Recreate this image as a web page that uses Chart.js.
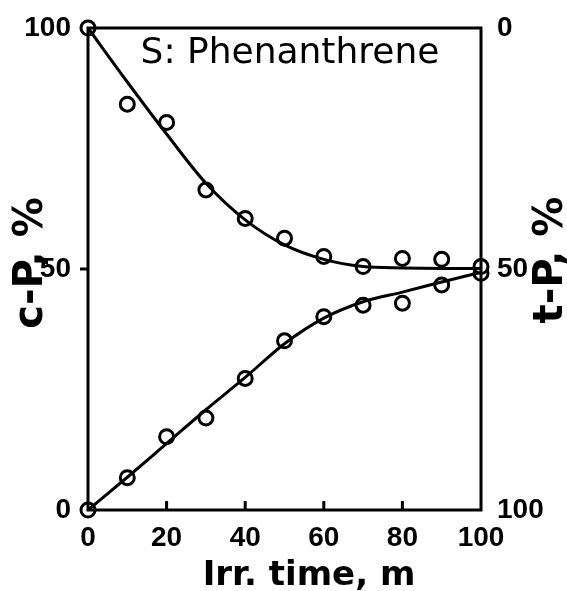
<!DOCTYPE html>
<html>
<head>
    <title>S: Phenanthrene</title>
    <style>
        body { margin: 0px; background: #ffffff; }
        #wrap { width: 567px; height: 591px; }
    </style>
    <script src="https://cdn.jsdelivr.net/npm/chart.js"></script>
</head>
<body>
    <div id="wrap"><canvas id="myChart" width="567" height="591"></canvas></div>
<script>
// irradiation time, minutes
const times = [0, 10, 20, 30, 40, 50, 60, 70, 80, 90, 100];

// measured c-P % (left axis), starting from pure cis
const cpMeasured = [100, 84.2, 80.4, 66.4, 60.5, 56.4, 52.6, 50.5, 52.2, 52.0, 50.5];
// fitted curve for c-P
const cpFit = [100, 88.8, 78, 67.8, 60.2, 55, 52, 50.5, 50.2, 50.1, 50.1];

// measured t-P % (right axis, reversed), starting from pure trans
const tpMeasured = [100, 93.3, 84.8, 80.9, 72.7, 64.9, 59.9, 57.5, 57.1, 53.3, 50.9];
// fitted curve for t-P
const tpFit = [100, 93.2, 86.2, 79.2, 72.5, 65.5, 60.2, 56.8, 54.8, 52.7, 50.7];

const xTicks = [0, 20, 40, 60, 80, 100];
const leftTicks = [0, 50, 100];
const rightTicks = [0, 50, 100];

const tickFont = { family: 'Liberation Sans', size: 28, weight: 'bold' };

function pairs(vals) {
    return times.map((t, i) => ({ x: t, y: vals[i] }));
}

// frame, inner/outer tick marks and titles
const decorations = {
    id: 'decorations',
    afterDatasetsDraw(chart) {
        const ctx = chart.ctx;
        const a = chart.chartArea;
        const sx = chart.scales.x;
        const sy = chart.scales.y;
        ctx.save();
        ctx.strokeStyle = '#000';
        ctx.lineWidth = 3;
        ctx.strokeRect(a.left, a.top, a.right - a.left, a.bottom - a.top);
        // x ticks point inward
        ctx.beginPath();
        [20, 40, 60, 80].forEach(v => {
            const px = sx.getPixelForValue(v);
            ctx.moveTo(px, a.bottom);
            ctx.lineTo(px, a.bottom - 9);
        });
        // left 50 tick points outward
        const p50 = sy.getPixelForValue(50);
        ctx.moveTo(a.left, p50);
        ctx.lineTo(a.left - 8, p50);
        ctx.stroke();

        ctx.fillStyle = '#000';
        ctx.font = '36px "DejaVu Sans"';
        ctx.textAlign = 'center';
        ctx.textBaseline = 'alphabetic';
        ctx.fillText('S: Phenanthrene', 290, 63);

        ctx.font = 'bold 34px "DejaVu Sans"';
        ctx.fillText('Irr. time, m', 309, 585);

        ctx.font = 'bold 40px "DejaVu Sans"';
        ctx.save();
        ctx.translate(42, 263);
        ctx.rotate(-Math.PI / 2);
        ctx.fillText('c-P, %', 0, 0);
        ctx.restore();
        ctx.save();
        ctx.translate(562, 260);
        ctx.rotate(-Math.PI / 2);
        ctx.fillText('t-P, %', 0, 0);
        ctx.restore();
        ctx.restore();
    }
};

const pointStyle = {
    showLine: false,
    pointRadius: 7,
    pointBorderWidth: 3,
    pointBackgroundColor: '#ffffff',
    pointBorderColor: '#000000',
    clip: false
};

const lineStyle = {
    showLine: true,
    borderColor: '#000000',
    borderWidth: 3,
    pointRadius: 0,
    cubicInterpolationMode: 'monotone',
    clip: false
};

new Chart(document.getElementById('myChart'), {
    type: 'scatter',
    data: {
        datasets: [
            Object.assign({ label: 'c-P fit', data: pairs(cpFit), yAxisID: 'y' }, lineStyle),
            Object.assign({ label: 't-P fit', data: pairs(tpFit), yAxisID: 'y2' }, lineStyle),
            Object.assign({ label: 'c-P', data: pairs(cpMeasured), yAxisID: 'y' }, pointStyle),
            Object.assign({ label: 't-P', data: pairs(tpMeasured), yAxisID: 'y2' }, pointStyle)
        ]
    },
    options: {
        responsive: false,
        animation: false,
        layout: { padding: { top: 28, left: 0, right: 0, bottom: 0 } },
        plugins: { legend: { display: false }, tooltip: { enabled: false } },
        scales: {
            x: {
                type: 'linear', min: 0, max: 100,
                grid: { display: false },
                border: { display: false },
                afterFit(s) { s.height = 81; },
                afterBuildTicks(s) { s.ticks = xTicks.map(v => ({ value: v })); },
                ticks: { font: tickFont, color: '#000', padding: 3, maxRotation: 0 }
            },
            y: {
                type: 'linear', position: 'left', min: 0, max: 100,
                grid: { display: false },
                border: { display: false },
                afterFit(s) { s.width = 88; },
                afterBuildTicks(s) { s.ticks = leftTicks.map(v => ({ value: v })); },
                ticks: { font: tickFont, color: '#000', padding: 9 }
            },
            y2: {
                type: 'linear', position: 'right', min: 0, max: 100, reverse: true,
                grid: { display: false },
                border: { display: false },
                afterFit(s) { s.width = 86; },
                afterBuildTicks(s) { s.ticks = rightTicks.map(v => ({ value: v })); },
                ticks: { font: tickFont, color: '#000', padding: 8 }
            }
        }
    },
    plugins: [decorations]
});
</script>
</body>
</html>
